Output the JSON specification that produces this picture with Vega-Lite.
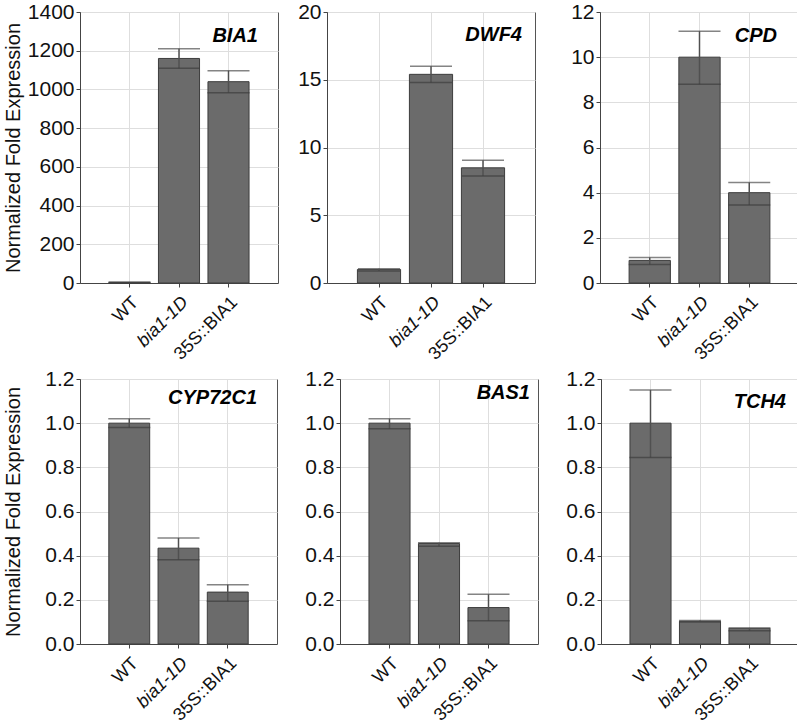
{
  "$schema": "https://vega.github.io/schema/vega-lite/v6.json",
  "padding": {"left": 2, "top": 0, "right": 2, "bottom": 0},
  "background": "white",
  "data": {"values": [
    {"gene": "BIA1", "genotype": "WT", "value": 3, "lo": 1, "hi": 5},
    {"gene": "BIA1", "genotype": "bia1-1D", "value": 1160, "lo": 1110, "hi": 1210},
    {"gene": "BIA1", "genotype": "35S::BIA1", "value": 1040, "lo": 983, "hi": 1097},
    {"gene": "DWF4", "genotype": "WT", "value": 1.0, "lo": 0.88, "hi": 1.06},
    {"gene": "DWF4", "genotype": "bia1-1D", "value": 15.4, "lo": 14.8, "hi": 16.0},
    {"gene": "DWF4", "genotype": "35S::BIA1", "value": 8.5, "lo": 7.9, "hi": 9.05},
    {"gene": "CPD", "genotype": "WT", "value": 1.0, "lo": 0.82, "hi": 1.13},
    {"gene": "CPD", "genotype": "bia1-1D", "value": 10.0, "lo": 8.8, "hi": 11.15},
    {"gene": "CPD", "genotype": "35S::BIA1", "value": 4.0, "lo": 3.45, "hi": 4.45},
    {"gene": "CYP72C1", "genotype": "WT", "value": 1.0, "lo": 0.98, "hi": 1.02},
    {"gene": "CYP72C1", "genotype": "bia1-1D", "value": 0.434, "lo": 0.382, "hi": 0.48},
    {"gene": "CYP72C1", "genotype": "35S::BIA1", "value": 0.235, "lo": 0.194, "hi": 0.268},
    {"gene": "BAS1", "genotype": "WT", "value": 1.0, "lo": 0.975, "hi": 1.02},
    {"gene": "BAS1", "genotype": "bia1-1D", "value": 0.455, "lo": 0.443, "hi": 0.458},
    {"gene": "BAS1", "genotype": "35S::BIA1", "value": 0.165, "lo": 0.105, "hi": 0.225},
    {"gene": "TCH4", "genotype": "WT", "value": 1.0, "lo": 0.845, "hi": 1.15},
    {"gene": "TCH4", "genotype": "bia1-1D", "value": 0.103, "lo": 0.1, "hi": 0.106},
    {"gene": "TCH4", "genotype": "35S::BIA1", "value": 0.071, "lo": 0.06, "hi": 0.073}
  ]},
  "vconcat": [
    {"hconcat": [
      {
        "width": 198, "height": 271,
        "title": {"text": "BIA1", "dx": -20, "offset": -45},
        "transform": [{"filter": "datum.gene === 'BIA1'"}],
        "encoding": {"x": {"field": "genotype", "type": "nominal", "sort": ["WT", "bia1-1D", "35S::BIA1"], "scale": {"paddingInner": 0.17, "paddingOuter": 0.585}, "title": null}},
        "layer": [
          {"mark": {"type": "bar", "fill": "#6b6b6b", "stroke": "#3d3d3d", "strokeWidth": 1}, "encoding": {"y": {"field": "value", "type": "quantitative", "title": "Normalized Fold Expression", "scale": {"domain": [0, 1400]}, "axis": {"values": [0, 200, 400, 600, 800, 1000, 1200, 1400], "format": "d", "minExtent": 53, "maxExtent": 53}}}},
          {"mark": {"type": "rule", "color": "#505050", "strokeWidth": 1.5}, "encoding": {"y": {"field": "lo", "type": "quantitative", "title": "Normalized Fold Expression", "axis": {"values": [0, 200, 400, 600, 800, 1000, 1200, 1400], "format": "d", "minExtent": 53, "maxExtent": 53}}, "y2": {"field": "hi"}}},
          {"mark": {"type": "tick", "color": "#505050", "size": 42, "thickness": 1.5}, "encoding": {"y": {"field": "hi", "type": "quantitative", "title": "Normalized Fold Expression", "axis": {"values": [0, 200, 400, 600, 800, 1000, 1200, 1400], "format": "d", "minExtent": 53, "maxExtent": 53}}}},
          {"mark": {"type": "tick", "color": "#3d3d3d", "size": 42, "thickness": 1.5}, "encoding": {"y": {"field": "lo", "type": "quantitative", "title": "Normalized Fold Expression", "axis": {"values": [0, 200, 400, 600, 800, 1000, 1200, 1400], "format": "d", "minExtent": 53, "maxExtent": 53}}}}
        ]
      },
      {
        "width": 208, "height": 271,
        "title": {"text": "DWF4", "dx": -13, "offset": -44},
        "transform": [{"filter": "datum.gene === 'DWF4'"}],
        "encoding": {"x": {"field": "genotype", "type": "nominal", "sort": ["WT", "bia1-1D", "35S::BIA1"], "scale": {"paddingInner": 0.17, "paddingOuter": 0.585}, "title": null}},
        "layer": [
          {"mark": {"type": "bar", "fill": "#6b6b6b", "stroke": "#3d3d3d", "strokeWidth": 1}, "encoding": {"y": {"field": "value", "type": "quantitative", "title": null, "scale": {"domain": [0, 20]}, "axis": {"values": [0, 5, 10, 15, 20], "minExtent": 37, "maxExtent": 37}}}},
          {"mark": {"type": "rule", "color": "#505050", "strokeWidth": 1.5}, "encoding": {"y": {"field": "lo", "type": "quantitative", "title": null, "axis": {"values": [0, 5, 10, 15, 20], "minExtent": 37, "maxExtent": 37}}, "y2": {"field": "hi"}}},
          {"mark": {"type": "tick", "color": "#505050", "size": 42, "thickness": 1.5}, "encoding": {"y": {"field": "hi", "type": "quantitative", "title": null, "axis": {"values": [0, 5, 10, 15, 20], "minExtent": 37, "maxExtent": 37}}}},
          {"mark": {"type": "tick", "color": "#3d3d3d", "size": 42, "thickness": 1.5}, "encoding": {"y": {"field": "lo", "type": "quantitative", "title": null, "axis": {"values": [0, 5, 10, 15, 20], "minExtent": 37, "maxExtent": 37}}}}
        ]
      },
      {
        "width": 199, "height": 271,
        "title": {"text": "CPD", "dx": -22, "offset": -45},
        "transform": [{"filter": "datum.gene === 'CPD'"}],
        "encoding": {"x": {"field": "genotype", "type": "nominal", "sort": ["WT", "bia1-1D", "35S::BIA1"], "scale": {"paddingInner": 0.17, "paddingOuter": 0.585}, "title": null}},
        "layer": [
          {"mark": {"type": "bar", "fill": "#6b6b6b", "stroke": "#3d3d3d", "strokeWidth": 1}, "encoding": {"y": {"field": "value", "type": "quantitative", "title": null, "scale": {"domain": [0, 12]}, "axis": {"values": [0, 2, 4, 6, 8, 10, 12], "minExtent": 53, "maxExtent": 53}}}},
          {"mark": {"type": "rule", "color": "#505050", "strokeWidth": 1.5}, "encoding": {"y": {"field": "lo", "type": "quantitative", "title": null, "axis": {"values": [0, 2, 4, 6, 8, 10, 12], "minExtent": 53, "maxExtent": 53}}, "y2": {"field": "hi"}}},
          {"mark": {"type": "tick", "color": "#505050", "size": 42, "thickness": 1.5}, "encoding": {"y": {"field": "hi", "type": "quantitative", "title": null, "axis": {"values": [0, 2, 4, 6, 8, 10, 12], "minExtent": 53, "maxExtent": 53}}}},
          {"mark": {"type": "tick", "color": "#3d3d3d", "size": 42, "thickness": 1.5}, "encoding": {"y": {"field": "lo", "type": "quantitative", "title": null, "axis": {"values": [0, 2, 4, 6, 8, 10, 12], "minExtent": 53, "maxExtent": 53}}}}
        ]
      }
    ]},
    {"hconcat": [
      {
        "width": 197, "height": 265,
        "title": {"text": "CYP72C1", "dx": -20, "offset": -40},
        "transform": [{"filter": "datum.gene === 'CYP72C1'"}],
        "encoding": {"x": {"field": "genotype", "type": "nominal", "sort": ["WT", "bia1-1D", "35S::BIA1"], "scale": {"paddingInner": 0.17, "paddingOuter": 0.585}, "title": null}},
        "layer": [
          {"mark": {"type": "bar", "fill": "#6b6b6b", "stroke": "#3d3d3d", "strokeWidth": 1}, "encoding": {"y": {"field": "value", "type": "quantitative", "title": "Normalized Fold Expression", "scale": {"domain": [0, 1.2]}, "axis": {"values": [0, 0.2, 0.4, 0.6, 0.8, 1.0, 1.2], "format": ".1f", "minExtent": 53, "maxExtent": 53}}}},
          {"mark": {"type": "rule", "color": "#505050", "strokeWidth": 1.5}, "encoding": {"y": {"field": "lo", "type": "quantitative", "title": "Normalized Fold Expression", "axis": {"values": [0, 0.2, 0.4, 0.6, 0.8, 1.0, 1.2], "format": ".1f", "minExtent": 53, "maxExtent": 53}}, "y2": {"field": "hi"}}},
          {"mark": {"type": "tick", "color": "#505050", "size": 42, "thickness": 1.5}, "encoding": {"y": {"field": "hi", "type": "quantitative", "title": "Normalized Fold Expression", "axis": {"values": [0, 0.2, 0.4, 0.6, 0.8, 1.0, 1.2], "format": ".1f", "minExtent": 53, "maxExtent": 53}}}},
          {"mark": {"type": "tick", "color": "#3d3d3d", "size": 42, "thickness": 1.5}, "encoding": {"y": {"field": "lo", "type": "quantitative", "title": "Normalized Fold Expression", "axis": {"values": [0, 0.2, 0.4, 0.6, 0.8, 1.0, 1.2], "format": ".1f", "minExtent": 53, "maxExtent": 53}}}}
        ]
      },
      {
        "width": 198, "height": 265,
        "title": {"text": "BAS1", "dx": -8, "offset": -35},
        "transform": [{"filter": "datum.gene === 'BAS1'"}],
        "encoding": {"x": {"field": "genotype", "type": "nominal", "sort": ["WT", "bia1-1D", "35S::BIA1"], "scale": {"paddingInner": 0.17, "paddingOuter": 0.585}, "title": null}},
        "layer": [
          {"mark": {"type": "bar", "fill": "#6b6b6b", "stroke": "#3d3d3d", "strokeWidth": 1}, "encoding": {"y": {"field": "value", "type": "quantitative", "title": null, "scale": {"domain": [0, 1.2]}, "axis": {"values": [0, 0.2, 0.4, 0.6, 0.8, 1.0, 1.2], "format": ".1f", "minExtent": 51, "maxExtent": 51}}}},
          {"mark": {"type": "rule", "color": "#505050", "strokeWidth": 1.5}, "encoding": {"y": {"field": "lo", "type": "quantitative", "title": null, "axis": {"values": [0, 0.2, 0.4, 0.6, 0.8, 1.0, 1.2], "format": ".1f", "minExtent": 51, "maxExtent": 51}}, "y2": {"field": "hi"}}},
          {"mark": {"type": "tick", "color": "#505050", "size": 42, "thickness": 1.5}, "encoding": {"y": {"field": "hi", "type": "quantitative", "title": null, "axis": {"values": [0, 0.2, 0.4, 0.6, 0.8, 1.0, 1.2], "format": ".1f", "minExtent": 51, "maxExtent": 51}}}},
          {"mark": {"type": "tick", "color": "#3d3d3d", "size": 42, "thickness": 1.5}, "encoding": {"y": {"field": "lo", "type": "quantitative", "title": null, "axis": {"values": [0, 0.2, 0.4, 0.6, 0.8, 1.0, 1.2], "format": ".1f", "minExtent": 51, "maxExtent": 51}}}}
        ]
      },
      {
        "width": 198, "height": 265,
        "title": {"text": "TCH4", "dx": -13, "offset": -44},
        "transform": [{"filter": "datum.gene === 'TCH4'"}],
        "encoding": {"x": {"field": "genotype", "type": "nominal", "sort": ["WT", "bia1-1D", "35S::BIA1"], "scale": {"paddingInner": 0.17, "paddingOuter": 0.585}, "title": null}},
        "layer": [
          {"mark": {"type": "bar", "fill": "#6b6b6b", "stroke": "#3d3d3d", "strokeWidth": 1}, "encoding": {"y": {"field": "value", "type": "quantitative", "title": null, "scale": {"domain": [0, 1.2]}, "axis": {"values": [0, 0.2, 0.4, 0.6, 0.8, 1.0, 1.2], "format": ".1f", "minExtent": 51, "maxExtent": 51}}}},
          {"mark": {"type": "rule", "color": "#505050", "strokeWidth": 1.5}, "encoding": {"y": {"field": "lo", "type": "quantitative", "title": null, "axis": {"values": [0, 0.2, 0.4, 0.6, 0.8, 1.0, 1.2], "format": ".1f", "minExtent": 51, "maxExtent": 51}}, "y2": {"field": "hi"}}},
          {"mark": {"type": "tick", "color": "#505050", "size": 42, "thickness": 1.5}, "encoding": {"y": {"field": "hi", "type": "quantitative", "title": null, "axis": {"values": [0, 0.2, 0.4, 0.6, 0.8, 1.0, 1.2], "format": ".1f", "minExtent": 51, "maxExtent": 51}}}},
          {"mark": {"type": "tick", "color": "#3d3d3d", "size": 42, "thickness": 1.5}, "encoding": {"y": {"field": "lo", "type": "quantitative", "title": null, "axis": {"values": [0, 0.2, 0.4, 0.6, 0.8, 1.0, 1.2], "format": ".1f", "minExtent": 51, "maxExtent": 51}}}}
        ]
      }
    ]}
  ],
  "spacing": 3,
  "config": {
    "font": "Liberation Sans",
    "concat": {"spacing": 10},
    "view": {"stroke": "#555555", "strokeWidth": 1},
    "axis": {"labelFontSize": 21, "labelColor": "#111111", "domainColor": "#444444", "tickColor": "#444444", "gridColor": "#dedede", "titleFontSize": 20, "titleFontWeight": "normal", "titleColor": "#111111", "tickSize": 4, "labelPadding": 2, "titlePadding": 4, "grid": true},
    "axisX": {"labelAngle": -45, "labelAlign": "right", "labelBaseline": "top", "labelFontSize": 18, "labelPadding": 6, "labelOffset": 0, "minExtent": 80, "maxExtent": 80, "labelFontStyle": {"condition": {"test": "datum.value === 'bia1-1D'", "value": "italic"}, "value": "normal"}},
    "title": {"anchor": "end", "frame": "group", "fontSize": 20, "fontStyle": "italic", "fontWeight": "bold", "baseline": "middle", "color": "#000000"}
  }
}
